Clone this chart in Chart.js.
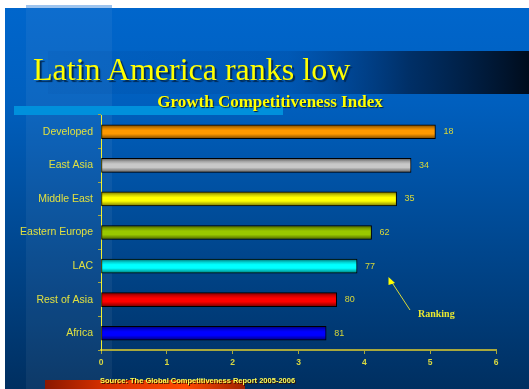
<!DOCTYPE html>
<html>
<head>
<meta charset="utf-8">
<script src="https://cdn.jsdelivr.net/npm/chart.js@4"></script>
<style>
    html, body { margin: 0; padding: 0; background: #fff; }
    #wrap { position: relative; width: 529px; height: 389px; overflow: hidden; }
    #chart { position: absolute; left: 0; top: 0; }
    .txt { position: absolute; white-space: nowrap; color: #ffff00; }
    #title { left: 33px; top: 53px; font: 32px/32px "Liberation Serif", "Times New Roman", serif; text-shadow: 2px 2px 1px #002a55; }
    #subtitle { left: 120px; top: 93px; width: 300px; text-align: center; font: bold 17px/17px "Liberation Serif", serif; text-shadow: 1px 1px 1px #002040; }
    #ranking { left: 418px; top: 309px; font: bold 10px/10px "Liberation Serif", serif; color: #e8e830; }
    #source { left: 100px; top: 377px; font: bold 7.5px/8px "Liberation Sans", Arial, sans-serif; color: #ffff55; text-shadow: 1px 1px 0 #301000; }
</style>
</head>
<body>
<div id="wrap">
    <canvas id="chart" width="529" height="389"></canvas>
    <div class="txt" id="title">Latin America ranks low</div>
    <div class="txt" id="subtitle">Growth Competitiveness Index</div>
    <div class="txt" id="ranking">Ranking</div>
    <div class="txt" id="source">Source: The Global Competitiveness Report 2005-2006</div>
</div>
<script>
// Data
const regions = ['Developed', 'East Asia', 'Middle East', 'Eastern Europe', 'LAC', 'Rest of Asia', 'Africa'];
const gciScores = [5.08, 4.71, 4.49, 4.11, 3.89, 3.58, 3.42];
const rankings = [18, 34, 35, 62, 77, 80, 81];
const barColors = ['#ff9900', '#c8c8c8', '#ffff00', '#99c800', '#00ffff', '#ff0000', '#0000ff'];
const xTicks = [0, 1, 2, 3, 4, 5, 6];

const BAR_H = 14;

function shade(hex, f) {
    const n = parseInt(hex.slice(1), 16);
    const r = Math.round(((n >> 16) & 255) * f);
    const g = Math.round(((n >> 8) & 255) * f);
    const b = Math.round((n & 255) * f);
    return `rgb(${r},${g},${b})`;
}

// cylinder-ish shading like the old PowerPoint bars, set once the bars have their positions
const barShading = {
    id: 'barShading',
    beforeDatasetsDraw(chart) {
        const c = chart.ctx;
        chart.getDatasetMeta(0).data.forEach((bar, i) => {
            const base = barColors[i];
            const h = bar.height || BAR_H;
            const g = c.createLinearGradient(0, bar.y - h / 2, 0, bar.y + h / 2);
            g.addColorStop(0, shade(base, 0.45));
            g.addColorStop(0.22, shade(base, 0.82));
            g.addColorStop(0.4, base);
            g.addColorStop(0.65, base);
            g.addColorStop(0.85, shade(base, 0.7));
            g.addColorStop(1, shade(base, 0.45));
            bar.options.backgroundColor = g;
        });
    }
};

const slideBackground = {
    id: 'slideBackground',
    beforeDraw(chart) {
        const c = chart.ctx;
        c.save();
        c.fillStyle = '#ffffff';
        c.fillRect(0, 0, 529, 389);
        // main blue
        const bg = c.createLinearGradient(0, 8, 0, 389);
        bg.addColorStop(0, '#0066cc');
        bg.addColorStop(0.25, '#005fbe');
        bg.addColorStop(1, '#002f60');
        c.fillStyle = bg;
        c.fillRect(5, 8, 524, 381);
        // lighter left panel
        c.fillStyle = 'rgba(255,255,255,0.05)';
        c.fillRect(26, 8, 86, 381);
        // light strip top
        c.fillStyle = '#9ec4ee';
        c.fillRect(26, 5, 86, 3);
        // dark title band
        const band = c.createLinearGradient(48, 0, 529, 0);
        band.addColorStop(0, 'rgba(0,60,140,0.08)');
        band.addColorStop(0.5, 'rgba(0,50,120,0.2)');
        band.addColorStop(0.75, 'rgba(0,35,80,0.8)');
        band.addColorStop(1, 'rgba(0,12,28,1)');
        c.fillStyle = band;
        c.fillRect(48, 51, 481, 43);
        // cyan strip under the subtitle
        c.fillStyle = '#0090dc';
        c.fillRect(14, 106, 269, 9);
        // red strip at the bottom
        const red = c.createLinearGradient(45, 0, 245, 0);
        red.addColorStop(0, '#8a1800');
        red.addColorStop(0.3, '#d83000');
        red.addColorStop(0.7, '#ff4a00');
        red.addColorStop(1, '#a02000');
        c.fillStyle = red;
        c.fillRect(45, 380, 200, 9);
        c.restore();
    }
};

const rankLabels = {
    id: 'rankLabels',
    afterDatasetsDraw(chart) {
        const c = chart.ctx;
        const meta = chart.getDatasetMeta(0);
        c.save();
        c.font = '9px "Liberation Sans", Arial, sans-serif';
        c.fillStyle = '#d8d838';
        c.textAlign = 'left';
        c.textBaseline = 'middle';
        meta.data.forEach((bar, i) => {
            c.fillText(String(rankings[i]), bar.x + 8, bar.y);
        });
        // arrow pointing at the ranks
        c.strokeStyle = '#d8d838';
        c.fillStyle = '#ffff00';
        c.lineWidth = 1;
        c.beginPath();
        c.moveTo(410, 310);
        c.lineTo(391, 281);
        c.stroke();
        c.beginPath();
        c.moveTo(388.5, 277);
        c.lineTo(395, 283);
        c.lineTo(388.5, 285);
        c.closePath();
        c.fill();
        c.restore();
    }
};

new Chart(document.getElementById('chart'), {
    type: 'bar',
    data: {
        labels: regions,
        datasets: [{
            data: gciScores,
            backgroundColor: barColors,
            borderColor: '#000000',
            borderWidth: 1,
            borderSkipped: false,
            barThickness: BAR_H
        }]
    },
    options: {
        indexAxis: 'y',
        responsive: false,
        animation: false,
        layout: { padding: { left: 0, top: 115, right: 33, bottom: 0 } },
        plugins: {
            legend: { display: false },
            tooltip: { enabled: false }
        },
        scales: {
            x: {
                min: 0,
                max: 6,
                afterFit: s => { s.height = 39; },
                afterBuildTicks: s => { s.ticks = xTicks.map(v => ({ value: v })); },
                border: { color: '#a8a83c', width: 2 },
                grid: { drawOnChartArea: false, color: '#a8a83c', tickLength: 4 },
                ticks: {
                    color: '#d8d840',
                    padding: 4,
                    font: { family: '"Liberation Sans", Arial, sans-serif', size: 8.5, weight: 'bold' }
                }
            },
            y: {
                afterFit: s => { s.width = 101; },
                border: { color: '#f0f030', width: 1 },
                grid: { drawOnChartArea: false, color: '#a8a83c', tickLength: 3 },
                ticks: {
                    color: '#e0e040',
                    padding: 5,
                    font: { family: '"Liberation Sans", Arial, sans-serif', size: 10.5 }
                }
            }
        }
    },
    plugins: [slideBackground, barShading, rankLabels]
});
</script>
</body>
</html>
